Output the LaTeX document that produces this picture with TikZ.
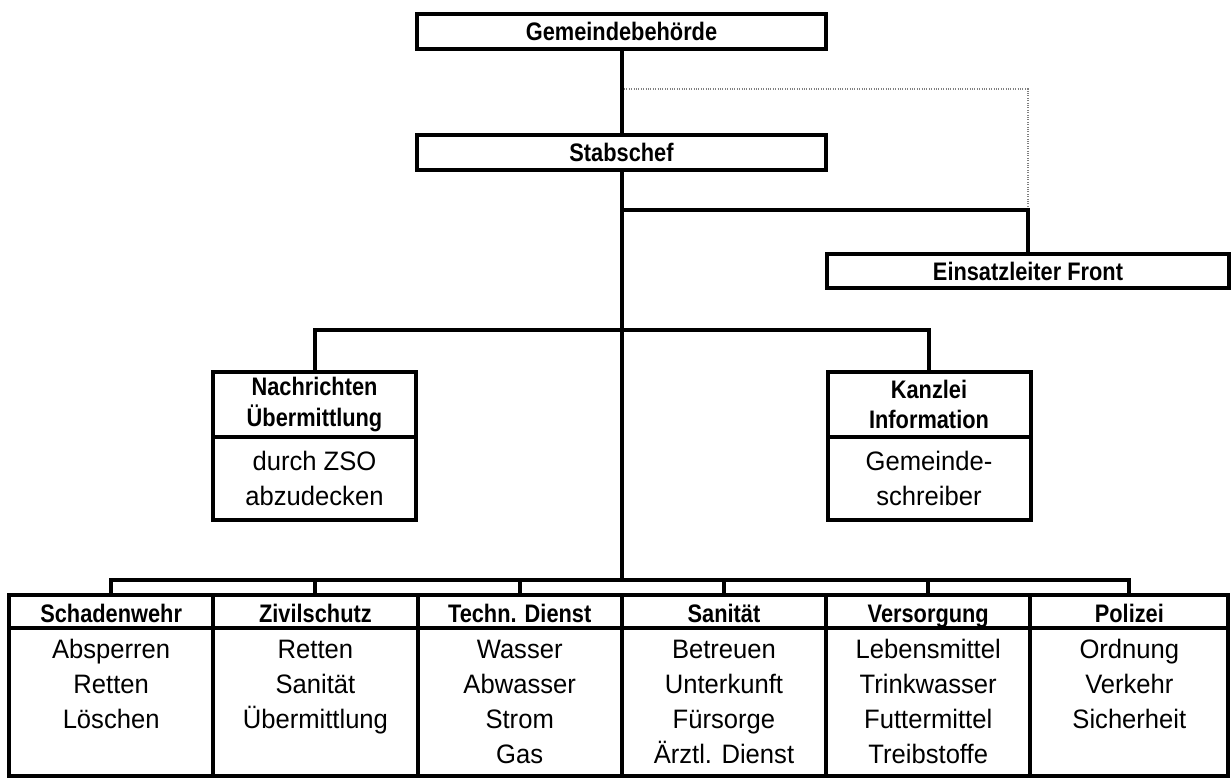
\documentclass[tikz,border=0pt]{standalone}
\usepackage{fontspec}
\setmainfont{Liberation Sans}
\newfontfamily\headfont[FakeStretch=0.86]{Liberation Sans}
\newfontfamily\bodyfont[FakeStretch=0.96]{Liberation Sans}
\usetikzlibrary{positioning}
\newcommand\hfnt{\headfont\bfseries\fontsize{19pt}{23pt}\selectfont}
\newcommand\bfnt{\bodyfont\fontsize{20pt}{26.25pt}\selectfont}
\tikzset{box/.style={draw,line width=3pt,outer sep=0pt,inner sep=0pt,align=center,font=\hfnt},head/.style={box,minimum width=153.2pt,minimum height=24.75pt,text height=19pt,text depth=2pt},task/.style={box,minimum width=153.2pt,minimum height=111.4pt,font=\bfnt},conn/.style={line width=3pt},dotline/.style={gray,line width=0.8pt,densely dotted}}

\begin{document}
\begin{tikzpicture}[x=0.75pt,y=-0.75pt]
\useasboundingbox (0,0) rectangle (1231,781);
% Leitung
\node[box,minimum width=306.75pt,minimum height=26.25pt] (gemeinde) at (621.5,31.5) {Gemeindebehörde};
\node[box,minimum width=306.75pt,minimum height=26.25pt] (stab) at (621.5,152.5) {Stabschef};
\node[box,minimum width=301.5pt,minimum height=25.5pt] (front) at (1028,271) {Einsatzleiter Front};
\node[box,minimum width=152.25pt,minimum height=48.75pt] (nachr) at (314.5,404.5) {Nachrichten\\Übermittlung};
\node[box,below=0pt of nachr,minimum width=152.25pt,minimum height=62.25pt,font=\bfnt] (nachrzso) {durch ZSO\\abzudecken};
\node[box,minimum width=152.25pt,minimum height=48.75pt] (kanzlei) at (929,404.5) {Kanzlei\\Information};
\node[box,below=0pt of kanzlei,minimum width=152.25pt,minimum height=62.25pt,font=\bfnt] (kanzleischr) {Gemeinde-\\schreiber};
% Dienste
\node[head] (wehr) at (111.15,611) {Schadenwehr};
\node[head,right=0pt of wehr] (zivil) {Zivilschutz};
\node[head,right=0pt of zivil] (techn) {Techn. Dienst};
\node[head,right=0pt of techn] (sani) {Sanität};
\node[head,right=0pt of sani] (versorg) {Versorgung};
\node[head,right=0pt of versorg,minimum width=148.5pt] (polizei) {Polizei};
\node[task,below=0pt of wehr] (wehrauf) {Absperren\\Retten\\Löschen\\~};
\node[task,below=0pt of zivil] (zivilauf) {Retten\\Sanität\\Übermittlung\\~};
\node[task,below=0pt of techn] (technauf) {Wasser\\Abwasser\\Strom\\Gas};
\node[task,below=0pt of sani] (saniauf) {Betreuen\\Unterkunft\\Fürsorge\\Ärztl. Dienst};
\node[task,below=0pt of versorg] (versorgauf) {Lebensmittel\\Trinkwasser\\Futtermittel\\Treibstoffe};
\node[task,below=0pt of polizei,minimum width=148.5pt] (polizeiauf) {Ordnung\\Verkehr\\Sicherheit\\~};
\coordinate (dotstart) at (624,89);
\coordinate (frontjoin) at (621.5,210);
\coordinate (stabsbus) at (621.5,330);
\coordinate (dienstbus) at (621.5,580);
\draw[conn] (gemeinde)--(stab); \draw[conn] (stab)--(dienstbus);
\draw[dotline] (dotstart)-|(front.north |- frontjoin);
\draw[conn] (frontjoin)-|(front);
\draw[conn] (nachr)|-(stabsbus)-|(kanzlei);
\draw[conn] (dienstbus)-|(wehr); \draw[conn] (dienstbus)-|(zivil); \draw[conn] (dienstbus)-|(techn);
\draw[conn] (dienstbus)-|(sani); \draw[conn] (dienstbus)-|(versorg); \draw[conn] (dienstbus)-|(polizei);
\end{tikzpicture}
\end{document}
